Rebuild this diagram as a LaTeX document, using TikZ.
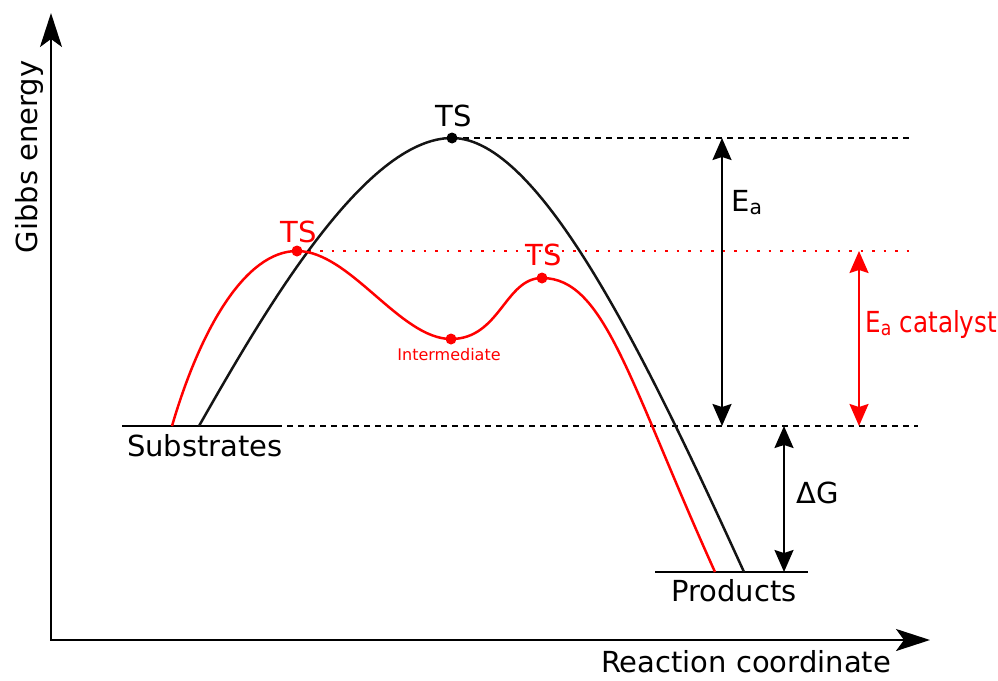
\documentclass[tikz,border=0pt]{standalone}
\usepackage{fontspec}
\setmainfont{DejaVu Sans}
\newfontfamily\narrowfont{DejaVu Sans}[FakeStretch=0.85]
\usetikzlibrary{arrows.meta}
\definecolor{catred}{RGB}{255,0,0}
\definecolor{pathblack}{RGB}{20,20,20}

\tikzset{
  axisline/.style={line width=2.2pt,{Stealth[length=34pt,width=22pt,inset=8pt]}-{Stealth[length=34pt,width=22pt,inset=8pt]}},
  levelarrow/.style={line width=2pt,{Stealth[length=22pt,width=19pt,inset=3pt]}-{Stealth[length=22pt,width=19pt,inset=3pt]}},
  guide/.style={line width=1.8pt,dash pattern=on 6pt off 5pt},
  dotguide/.style={line width=2.8pt,catred,dash pattern=on 2.5pt off 9pt},
  lbl/.style={font=\fontsize{29}{34}\selectfont,inner sep=0pt},
  smalllbl/.style={font=\fontsize{16}{18}\selectfont,inner sep=0pt},
}

\begin{document}
\begin{tikzpicture}[x=1pt,y=-1pt]
\useasboundingbox (0,0) rectangle (998,680);
% points:
\coordinate (ytip) at (51,13);
\coordinate (origin) at (51,640);
\coordinate (xtip) at (930,640);
\coordinate (subL) at (122,426);
\coordinate (subR) at (276,426);
\coordinate (subEnd) at (918,426);
\coordinate (prodL) at (655,572);
\coordinate (prodR) at (808,572);
\coordinate (blackS) at (199,426);
\coordinate (blackE) at (744,572);
\coordinate (redS) at (172,426);
\coordinate (redE) at (715,572);
\coordinate (ts) at (452,138);
\coordinate (tsEnd) at (912,138);
\coordinate (ts1) at (297,251);
\coordinate (ts1End) at (916,251);
\coordinate (ts2) at (542,278);
\coordinate (int) at (451,339);
\coordinate (eaTop) at (722,138);
\coordinate (eaBot) at (722,426);
\coordinate (catTop) at (859,251);
\coordinate (catBot) at (859,426);
\coordinate (dgTop) at (784,426);
\coordinate (dgBot) at (784,572);
% axes:
\draw[axisline] (ytip) -- (origin) -- (xtip);
\node[lbl,rotate=90,anchor=base] at (37,157) {Gibbs energy};
\node[lbl,anchor=base] at (746,672) {Reaction coordinate};
% levels:
\draw[line width=2.5pt] (subL) -- (subR);
\draw[line width=2.5pt] (prodL) -- (prodR);
\draw[guide] (subR) -- (subEnd);
\draw[guide] (ts) -- (tsEnd);
\draw[dotguide] (ts1) -- (ts1End);
\node[lbl,anchor=base] at (205,456) {Substrates};
\node[lbl,anchor=base] at (734,601) {Products};
% uncatalysed path:
\draw[pathblack,line width=2.5pt] (blackS) .. controls (265,310) and (365,138) .. (ts)
  .. controls (540,138) and (645,355) .. (blackE);
\fill[black] (ts) circle (5.5);
\node[lbl] at (454,116) {TS};
% catalysed path:
\draw[catred,line width=2.5pt] (redS) .. controls (200,330) and (245,251) .. (ts1)
  .. controls (350,251) and (400,339) .. (int)
  .. controls (500,339) and (505,278) .. (ts2)
  .. controls (605,278) and (629,382) .. (redE);
\fill[catred] (ts1) circle (5.5);
\fill[catred] (ts2) circle (5.5);
\fill[catred] (int) circle (5.5);
\node[lbl,catred] at (299,232) {TS};
\node[lbl,catred] at (544,255) {TS};
\node[smalllbl,catred] at (449,355) {Intermediate};
% energy differences:
\draw[levelarrow] (eaTop) -- (eaBot);
\node[lbl,anchor=base west] at (731,211) {E\textsubscript{a}};
\draw[levelarrow,catred] (catTop) -- (catBot);
\node[lbl,catred,anchor=base west] at (865,332) {\narrowfont E\textsubscript{a} catalyst};
\draw[levelarrow] (dgTop) -- (dgBot);
\node[lbl,anchor=base west] at (796,503) {ΔG};
\end{tikzpicture}
\end{document}
